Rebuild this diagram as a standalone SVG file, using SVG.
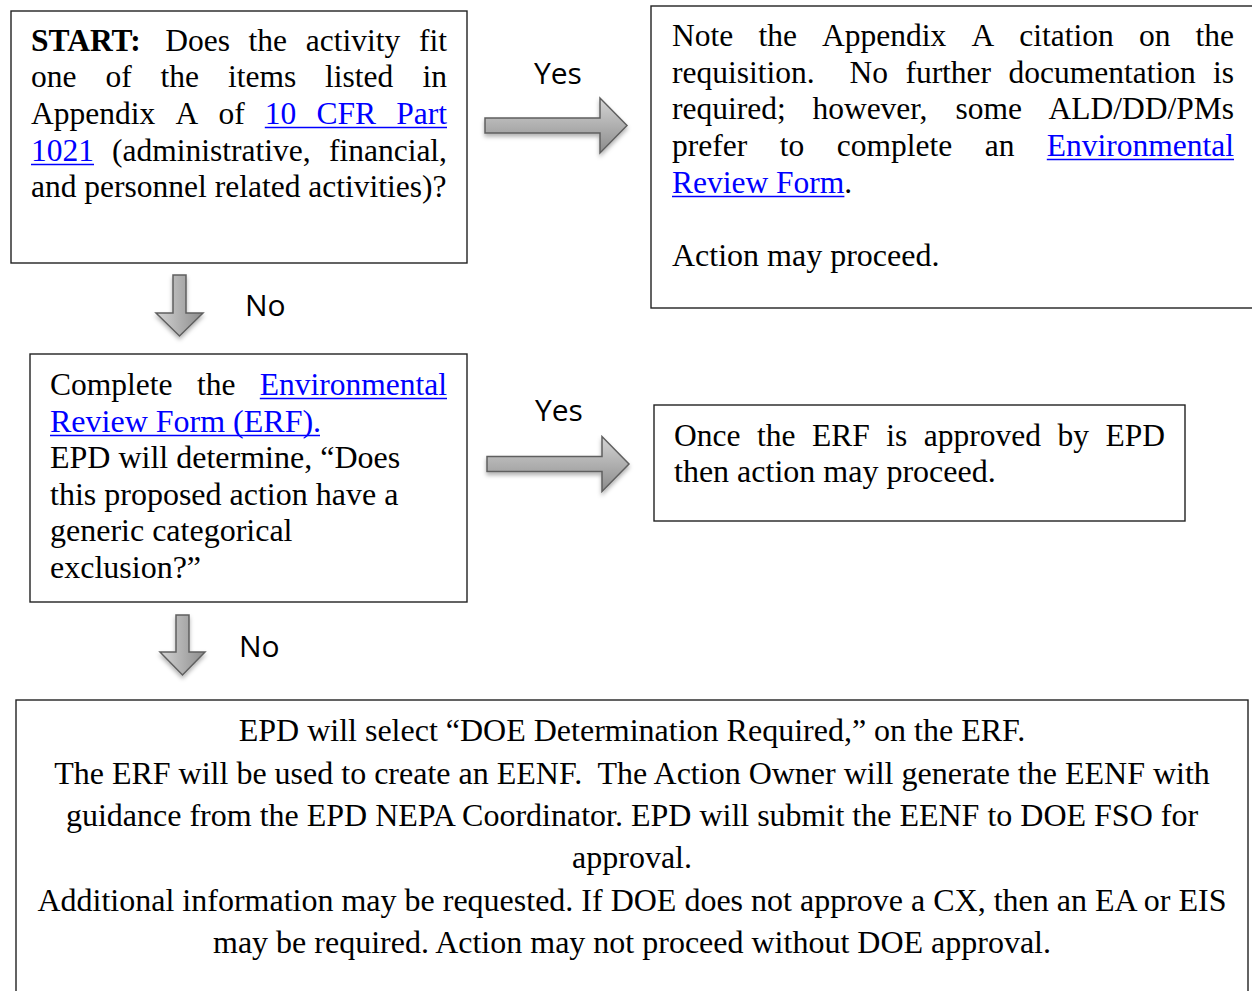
<svg xmlns="http://www.w3.org/2000/svg" width="1252" height="991" viewBox="0 0 1252 991">
<style>
.box{fill:#fff;stroke:#222;stroke-width:1.4}
.t{font-family:"Liberation Serif","Times New Roman",serif;font-size:31.5px;fill:#000}
.w{font-size:32px}
.b{font-weight:bold}
.lnk{fill:#0000ff}
.ul{stroke:#0000ff;stroke-width:1.6}
.lbl{font-family:"Open Sans","Liberation Sans",sans-serif;font-size:30px;fill:#000}
.arr{stroke:#5f5f5f;stroke-width:1.5;filter:url(#sh)}
.c{text-anchor:middle}
.e{text-anchor:end}
</style>
<defs>
<linearGradient id="gh" x1="0" y1="0" x2="0" y2="1">
<stop offset="0" stop-color="#d4d4d4"/><stop offset="1" stop-color="#8c8c8c"/>
</linearGradient>
<linearGradient id="gv" x1="0" y1="0" x2="1" y2="0">
<stop offset="0" stop-color="#d4d4d4"/><stop offset="1" stop-color="#8c8c8c"/>
</linearGradient>
<filter id="sh" x="-20%" y="-20%" width="140%" height="150%">
<feDropShadow dx="0" dy="3" stdDeviation="2" flood-color="#000" flood-opacity="0.3"/>
</filter>
</defs>

<g id="connectors">
<path class="arr" fill="url(#gh)" d="M485,118 H600 V98 L627,125.5 L600,153 V133 H485 Z"/>
<path class="arr" fill="url(#gh)" d="M487,456.5 H602 V436.5 L629,464 L602,491.5 V471.5 H487 Z"/>
<path class="arr" fill="url(#gv)" d="M173,275 H186 V313 H203 L179.5,336 L156,313 H173 Z"/>
<path class="arr" fill="url(#gv)" d="M176,615 H189 V652 H205 L182.5,675 L160,652 H176 Z"/>
<text class="lbl" x="534" y="84">Yes</text>
<text class="lbl" x="245" y="316">No</text>
<text class="lbl" x="535" y="421">Yes</text>
<text class="lbl" x="239" y="657">No</text>
</g>

<g id="start">
<rect class="box" x="11" y="11" width="456" height="252"/>
<text class="t" y="51"><tspan x="31" class="b">START:</tspan><tspan x="165.2">Does</tspan><tspan x="248.6">the</tspan><tspan x="305.8">activity</tspan><tspan x="447" class="e">fit</tspan></text>
<text class="t" y="87"><tspan x="31">one</tspan><tspan x="105.4">of</tspan><tspan x="160.5">the</tspan><tspan x="227.9">items</tspan><tspan x="325.1">listed</tspan><tspan x="447" class="e">in</tspan></text>
<text class="t" y="124"><tspan x="31">Appendix</tspan><tspan x="175.4">A</tspan><tspan x="218.4">of</tspan><tspan x="264.8" class="lnk">10</tspan><tspan x="316.5" class="lnk">CFR</tspan><tspan x="447" class="lnk e">Part</tspan></text>
<line class="ul" x1="264.8" y1="127.5" x2="447" y2="127.5"/>
<text class="t" y="161"><tspan x="31" class="lnk">1021</tspan><tspan x="112.1">(administrative,</tspan><tspan x="447" class="e">financial,</tspan></text>
<line class="ul" x1="31" y1="164.5" x2="94" y2="164.5"/>
<text class="t" x="31" y="197">and personnel related activities)?</text>
</g>

<g id="appendix-note">
<rect class="box" x="651" y="6" width="620" height="302"/>
<text class="t" y="46"><tspan x="672">Note</tspan><tspan x="758.4">the</tspan><tspan x="822">Appendix</tspan><tspan x="971.4">A</tspan><tspan x="1019.2">citation</tspan><tspan x="1138.9">on</tspan><tspan x="1234" class="e">the</tspan></text>
<text class="t" y="83"><tspan x="672">requisition.</tspan><tspan x="849.5">No</tspan><tspan x="905.4">further</tspan><tspan x="1008.5">documentation</tspan><tspan x="1234" class="e">is</tspan></text>
<text class="t" y="119"><tspan x="672">required;</tspan><tspan x="812.4">however,</tspan><tspan x="955.4">some</tspan><tspan x="1234" class="e">ALD/DD/PMs</tspan></text>
<text class="t" y="156"><tspan x="672">prefer</tspan><tspan x="779.7">to</tspan><tspan x="836.7">complete</tspan><tspan x="984.7">an</tspan><tspan x="1234" class="lnk e">Environmental</tspan></text>
<line class="ul" x1="1046.8" y1="159.5" x2="1234" y2="159.5"/>
<text class="t" x="672" y="193"><tspan class="lnk">Review Form</tspan>.</text>
<line class="ul" x1="672" y1="196.5" x2="844.4" y2="196.5"/>
<text class="t w" x="672" y="266">Action may proceed.</text>
</g>

<g id="erf">
<rect class="box" x="30" y="354" width="437" height="248"/>
<text class="t" y="395"><tspan x="50">Complete</tspan><tspan x="196.9">the</tspan><tspan x="447" class="lnk e">Environmental</tspan></text>
<line class="ul" x1="259.8" y1="398.5" x2="447" y2="398.5"/>
<text class="t lnk w" x="50" y="432">Review Form (ERF).</text>
<line class="ul" x1="50" y1="435.5" x2="320" y2="435.5"/>
<text class="t w" x="50" y="468">EPD will determine, “Does</text>
<text class="t w" x="50" y="505">this proposed action have a</text>
<text class="t w" x="50" y="541">generic categorical</text>
<text class="t w" x="50" y="578">exclusion?”</text>
</g>

<g id="erf-approved">
<rect class="box" x="654" y="405" width="531" height="116"/>
<text class="t" y="446"><tspan x="674">Once</tspan><tspan x="757">the</tspan><tspan x="812">ERF</tspan><tspan x="886.3">is</tspan><tspan x="923.8">approved</tspan><tspan x="1057.5">by</tspan><tspan x="1165" class="e">EPD</tspan></text>
<text class="t w" x="674" y="482">then action may proceed.</text>
</g>

<g id="doe-determination">
<rect class="box" x="16" y="700" width="1232" height="320"/>
<text class="t w c" x="632" y="741">EPD will select “DOE Determination Required,” on the ERF.</text>
<text class="t w c" x="632" y="784">The ERF will be used to create an EENF.&#160; The Action Owner will generate the EENF with</text>
<text class="t w c" x="632" y="826">guidance from the EPD NEPA Coordinator. EPD will submit the EENF to DOE FSO for</text>
<text class="t w c" x="632" y="868">approval.</text>
<text class="t w c" x="632" y="911">Additional information may be requested. If DOE does not approve a CX, then an EA or EIS</text>
<text class="t w c" x="632" y="953">may be required. Action may not proceed without DOE approval.</text>
</g>
</svg>
